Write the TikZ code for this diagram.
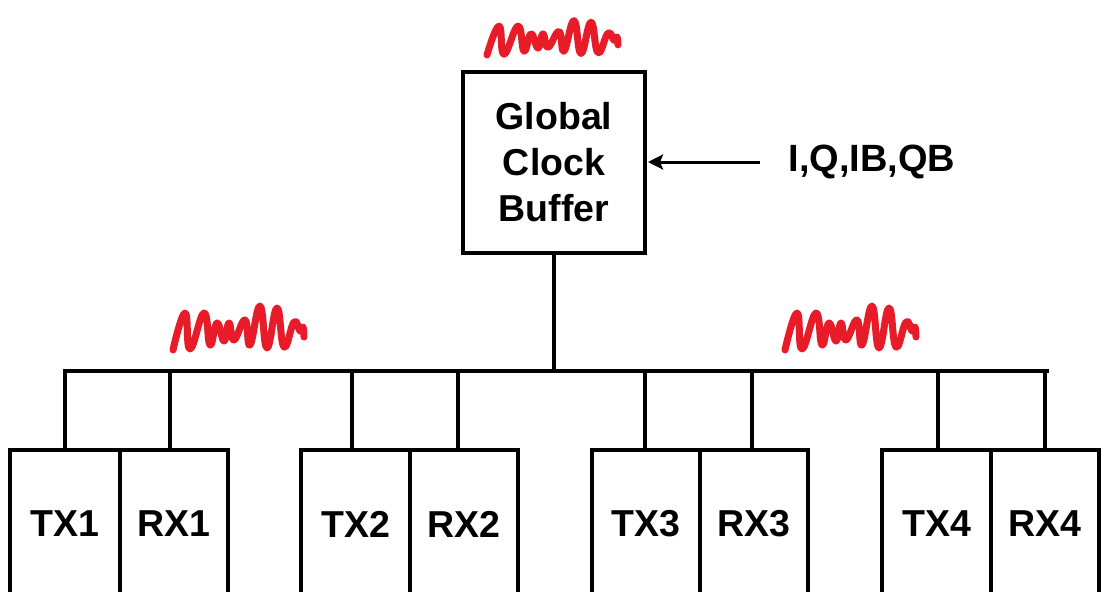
\documentclass[tikz,border=0pt]{standalone}
\usepackage{fontspec}
\setmainfont{Liberation Sans}
\usetikzlibrary{arrows.meta}
\definecolor{sqred}{RGB}{232,28,40}
\begin{document}
\begin{tikzpicture}[x=1pt,y=-1pt,
  wire/.style={line width=4pt},
  blk/.style={draw,line width=4pt,font=\fontsize{37.5}{46}\selectfont\bfseries,align=center,inner sep=0pt},
  sub/.style={blk,minimum width=108pt,minimum height=148pt,anchor=north},
  squig/.style={draw=sqred,line width=7pt,line cap=round,line join=round},
  arr/.style={line width=3pt,-{Stealth[length=15pt,width=15pt,inset=3pt]}},
  lbl/.style={font=\fontsize{38}{46}\selectfont\bfseries,inner sep=0pt}]
\useasboundingbox (0,0) rectangle (1109,592);
\clip (0,0) rectangle (1109,592);
\fill[white] (0,0) rectangle (1109,592);
% global buffer
\node[blk,minimum width=182pt,minimum height=181pt] (gcb) at (554,162.5) {Global\\Clock\\Buffer};
% input
\coordinate (inp) at (760,162);
\node[lbl] (iq) at (872,162) {I,Q,IB,QB};
\draw[arr] (inp) -- ([xshift=1pt]gcb.east |- inp);
% bus
\coordinate (bl) at (65,371);
\coordinate (br) at (1047,371);
\coordinate (bm) at (554,371);
\draw[wire] (gcb.south) -- (bm);
\draw[wire,line cap=rect] (bl) -- (br);
% sub blocks
\node[sub,minimum width=110pt] (tx1) at (65,448) {TX1};
\node[sub] (rx1) at (174,448) {RX1};
\node[sub,minimum width=109pt] (tx2) at (355.5,448) {TX2};
\node[sub] (rx2) at (464,448) {RX2};
\node[sub] (tx3) at (646,448) {TX3};
\node[sub] (rx3) at (754,448) {RX3};
\node[sub,minimum width=109pt] (tx4) at (936.5,448) {TX4};
\node[sub] (rx4) at (1045,448) {RX4};
\foreach \n/\x in {tx1/65,rx1/170,tx2/352,rx2/458,tx3/645,rx3/752,tx4/938,rx4/1045}{
  \coordinate (d\n) at (\x,371);
  \draw[wire] (d\n) -- (d\n |- \n.north);
}
% squiggles
\foreach \sx/\sy/\ys in {487/55/0.78,173/350/1,785/350/1}{
  \draw[squig,shift={(\sx,\sy)},yscale=\ys] plot[smooth,tension=0.8] coordinates {(0,0) (12,-37) (17,-1) (31,-37) (37,-5) (44,-27) (51,-9) (56,-27) (61,-10) (72,-30) (77,-5) (87,-44) (94,-2) (104,-42) (111,-3) (121,-28) (127,-19) (130,-23) (131,-13)};
}
\end{tikzpicture}
\end{document}
